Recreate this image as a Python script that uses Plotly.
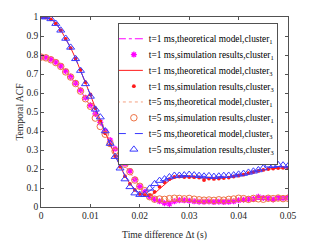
import plotly.graph_objects as go

# time lags in ms -> seconds (0..50 ms, step 1 ms)
lag_ms = list(range(51))
x_vals = [v / 1000 for v in lag_ms]

theory_c1_t1 = [0.790, 0.786, 0.776, 0.760, 0.740, 0.713, 0.683, 0.650, 0.613, 0.573,
                0.532, 0.488, 0.442, 0.395, 0.348, 0.302, 0.260, 0.220, 0.180, 0.140,
                0.105, 0.077, 0.057, 0.045, 0.037, 0.033, 0.031, 0.031, 0.032, 0.033,
                0.034, 0.034, 0.035, 0.035, 0.035, 0.035, 0.036, 0.036, 0.037, 0.037,
                0.037, 0.038, 0.038, 0.039, 0.039, 0.040, 0.040, 0.041, 0.041, 0.042, 0.042]
theory_c1_t5 = [0.790, 0.786, 0.776, 0.760, 0.740, 0.713, 0.683, 0.650, 0.613, 0.573,
                0.532, 0.488, 0.442, 0.395, 0.348, 0.302, 0.260, 0.220, 0.180, 0.140,
                0.106, 0.079, 0.059, 0.047, 0.040, 0.037, 0.036, 0.036, 0.037, 0.037,
                0.038, 0.038, 0.038, 0.039, 0.039, 0.040, 0.040, 0.041, 0.041, 0.042,
                0.042, 0.042, 0.043, 0.043, 0.044, 0.044, 0.045, 0.045, 0.046, 0.046, 0.047]
theory_c3_t1 = [1.000, 0.998, 0.990, 0.967, 0.932, 0.888, 0.838, 0.782, 0.720, 0.655,
                0.590, 0.522, 0.455, 0.390, 0.330, 0.270, 0.214, 0.164, 0.124, 0.092,
                0.072, 0.062, 0.062, 0.072, 0.095, 0.120, 0.140, 0.153, 0.158, 0.159,
                0.159, 0.158, 0.156, 0.153, 0.151, 0.150, 0.151, 0.153, 0.157, 0.161,
                0.166, 0.172, 0.178, 0.184, 0.190, 0.195, 0.199, 0.202, 0.204, 0.206, 0.207]
theory_c3_t5 = [1.000, 0.998, 0.990, 0.967, 0.932, 0.888, 0.838, 0.782, 0.720, 0.655,
                0.590, 0.522, 0.455, 0.390, 0.330, 0.270, 0.214, 0.164, 0.124, 0.092,
                0.072, 0.068, 0.085, 0.108, 0.128, 0.143, 0.154, 0.161, 0.165, 0.166,
                0.166, 0.165, 0.163, 0.161, 0.159, 0.158, 0.159, 0.161, 0.164, 0.168,
                0.173, 0.179, 0.185, 0.191, 0.197, 0.202, 0.206, 0.209, 0.211, 0.212, 0.213]

sim_c1_t1 = [0.790, 0.787, 0.777, 0.762, 0.741, 0.715, 0.686, 0.652, 0.615, 0.575,
             0.535, 0.490, 0.445, 0.400, 0.352, 0.306, 0.264, 0.228, 0.190, 0.145,
             0.108, 0.080, 0.055, 0.040, 0.030, 0.020, 0.016, 0.030, 0.035, 0.035,
             0.033, 0.030, 0.028, 0.027, 0.029, 0.026, 0.028, 0.026, 0.027, 0.030,
             0.035, 0.038, 0.040, 0.042, 0.054, 0.048, 0.045, 0.040, 0.048, 0.046, 0.050]
sim_c1_t5 = [0.789, 0.785, 0.775, 0.760, 0.740, 0.711, 0.684, 0.650, 0.610, 0.570,
             0.530, 0.468, 0.424, 0.383, 0.334, 0.294, 0.261, 0.225, 0.186, 0.142,
             0.109, 0.086, 0.054, 0.041, 0.042, 0.040, 0.044, 0.046, 0.045, 0.043,
             0.045, 0.041, 0.038, 0.036, 0.037, 0.035, 0.038, 0.036, 0.040, 0.042,
             0.046, 0.044, 0.040, 0.045, 0.043, 0.041, 0.046, 0.044, 0.047, 0.044, 0.046]
sim_c3_t1 = [1.000, 0.997, 0.988, 0.965, 0.930, 0.885, 0.836, 0.781, 0.722, 0.657,
             0.592, 0.520, 0.452, 0.388, 0.328, 0.268, 0.212, 0.162, 0.122, 0.090,
             0.068, 0.062, 0.062, 0.080, 0.106, 0.130, 0.147, 0.158, 0.160, 0.158,
             0.158, 0.157, 0.155, 0.142, 0.150, 0.148, 0.150, 0.152, 0.155, 0.160,
             0.165, 0.170, 0.178, 0.184, 0.190, 0.195, 0.200, 0.202, 0.205, 0.206, 0.207]
sim_c3_t5 = [1.000, 1.000, 0.990, 0.965, 0.930, 0.887, 0.840, 0.780, 0.718, 0.648,
             0.582, 0.514, 0.473, 0.400, 0.334, 0.265, 0.204, 0.147, 0.106, 0.073,
             0.065, 0.065, 0.098, 0.122, 0.139, 0.147, 0.158, 0.166, 0.166, 0.168,
             0.171, 0.168, 0.165, 0.162, 0.164, 0.160, 0.162, 0.165, 0.166, 0.168,
             0.172, 0.176, 0.182, 0.188, 0.195, 0.205, 0.220, 0.218, 0.222, 0.220, 0.215]

x_tick_vals = [0, 0.01, 0.02, 0.03, 0.04, 0.05]
x_tick_text = ["0", "0.01", "0.02", "0.03", "0.04", "0.05"]
y_tick_vals = [0, 0.1, 0.2, 0.3, 0.4, 0.5, 0.6, 0.7, 0.8, 0.9, 1.0]
y_tick_text = ["0", "0.1", "0.2", "0.3", "0.4", "0.5", "0.6", "0.7", "0.8", "0.9", "1"]

names = [
    "t=1 ms,theoretical model,cluster<sub>1</sub>",
    "t=1 ms,simulation results,cluster<sub>1</sub>",
    "t=1 ms,theoretical model,cluster<sub>3</sub>",
    "t=1 ms,simulation results,cluster<sub>3</sub>",
    "t=5 ms,theoretical model,cluster<sub>1</sub>",
    "t=5 ms,simulation results,cluster<sub>1</sub>",
    "t=5 ms,theoretical model,cluster<sub>3</sub>",
    "t=5 ms,simulation results,cluster<sub>3</sub>",
]

MAG = "#ff00ff"
RED = "#ff1a1a"
ORG = "#ee7244"
BLU = "#3838ff"

fig = go.Figure()
fig.add_trace(go.Scatter(x=x_vals, y=theory_c1_t1, mode="lines", name=names[0],
                         line=dict(color=MAG, width=1, dash="dashdot")))
fig.add_trace(go.Scatter(x=x_vals, y=sim_c1_t1, mode="markers", name=names[1],
                         marker=dict(symbol="asterisk-open", size=5, color=MAG,
                                     line=dict(color=MAG, width=1.3))))
fig.add_trace(go.Scatter(x=x_vals, y=theory_c3_t1, mode="lines", name=names[2],
                         line=dict(color=RED, width=1)))
fig.add_trace(go.Scatter(x=x_vals, y=sim_c3_t1, mode="markers", name=names[3],
                         marker=dict(symbol="circle", size=3.8, color=RED)))
fig.add_trace(go.Scatter(x=x_vals, y=theory_c1_t5, mode="lines", name=names[4],
                         line=dict(color="#f4a080", width=1, dash="dot")))
fig.add_trace(go.Scatter(x=x_vals, y=sim_c1_t5, mode="markers", name=names[5],
                         marker=dict(symbol="circle-open", size=6.5, color=ORG,
                                     line=dict(color=ORG, width=1))))
fig.add_trace(go.Scatter(x=x_vals, y=theory_c3_t5, mode="lines", name=names[6],
                         line=dict(color=BLU, width=1, dash="dash")))
fig.add_trace(go.Scatter(x=x_vals, y=sim_c3_t5, mode="markers", name=names[7],
                         marker=dict(symbol="triangle-up-open", size=7, color=BLU,
                                     line=dict(color=BLU, width=1))))

axis_common = dict(showgrid=False, zeroline=False, showline=True, mirror="ticks",
                   linecolor="#262626", linewidth=0.8, ticks="inside", ticklen=3,
                   tickcolor="#262626", tickwidth=0.8,
                   tickfont=dict(family="Liberation Serif", size=9.5, color="#262626"))

fig.update_layout(
    width=316, height=250,
    margin=dict(l=41, r=28, t=17, b=28),
    paper_bgcolor="white", plot_bgcolor="white",
    font=dict(family="Liberation Serif", size=9, color="#262626"),
    hovermode=False,
    showlegend=True,
    legend=dict(x=0.312, y=0.966, xanchor="left", yanchor="top",
                bgcolor="white", bordercolor="#262626", borderwidth=0.8,
                font=dict(family="Liberation Serif", size=9, color="#000000"),
                tracegroupgap=0, itemwidth=30),
    xaxis=dict(range=[0, 0.05], tickvals=x_tick_vals, ticktext=x_tick_text,
               title=dict(text="Time difference Δt (s)", standoff=10,
                          font=dict(family="Liberation Serif", size=9.6)),
               **axis_common),
    yaxis=dict(range=[0, 1], tickvals=y_tick_vals, ticktext=y_tick_text,
               title=dict(text="Temporal ACF", standoff=0,
                          font=dict(family="Liberation Serif", size=9.6)),
               **axis_common),
)

# Remove the default page margin and make the legend more compact
# (Plotly enforces a 19px minimum legend row height and a 40px key area).
# Text is sized so the longest entry spans about 125px as in the reference.
legend_js = """
document.body.style.margin = '0';
document.body.style.overflow = 'hidden';
var gd = document.getElementById('{plot_id}');
function squeeze(){
  var items = gd.querySelectorAll('.legend .traces');
  var n = items.length;
  if (n < 2) return;
  var step = 15.8, dx = -10, targetW = 125;
  var pos = [];
  items.forEach(function(el){
    var m = /translate\\(([-\\d.e]+)[ ,]+([-\\d.e]+)\\)/.exec(el.getAttribute('transform'));
    pos.push([parseFloat(m[1]), parseFloat(m[2])]);
  });
  var y0 = pos[0][1];
  var oldSpan = pos[n-1][1] - y0;
  var newSpan = (n-1)*step;
  if (Math.abs(oldSpan - newSpan) < 0.5) return;
  var maxW = 0;
  items.forEach(function(el){
    var t = el.querySelector('.legendtext');
    if (t) maxW = Math.max(maxW, t.getBBox().width);
  });
  var scale = maxW > 0 ? targetW / maxW : 1;
  var maxRight = 0;
  items.forEach(function(el, i){
    var nx = pos[i][0] + dx;
    el.setAttribute('transform', 'translate(' + nx + ',' + (y0 + i*step) + ')');
    var sym = el.querySelector('.legendsymbols');
    if (sym) sym.setAttribute('transform', 'translate(5,0)');
    el.querySelectorAll('.legendlines path').forEach(function(p){
      p.setAttribute('d', 'M8,0h26');
    });
    var t = el.querySelector('.legendtext');
    if (t) {
      var fs = parseFloat(window.getComputedStyle(t).fontSize);
      t.style.fontSize = (fs * scale) + 'px';
      var bb = t.getBBox();
      maxRight = Math.max(maxRight, nx + bb.x + bb.width);
    }
  });
  var bg = gd.querySelector('.legend .bg');
  if (bg) {
    var h = parseFloat(bg.getAttribute('height'));
    var bx = parseFloat(bg.getAttribute('x') || 0);
    bg.setAttribute('height', h - (oldSpan - newSpan));
    bg.setAttribute('width', maxRight + 3 - bx);
  }
}
squeeze();
gd.on('plotly_afterplot', squeeze);
"""

fig.write_html("out.html", post_script=legend_js,
               config={"displayModeBar": False, "staticPlot": True})
